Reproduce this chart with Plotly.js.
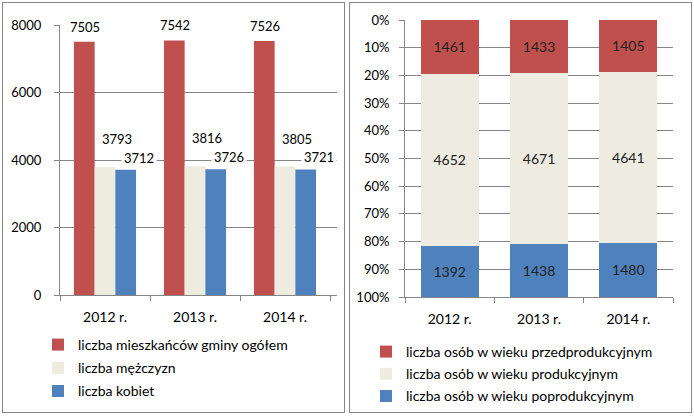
<!DOCTYPE html>
<html>
<head>
<meta charset="utf-8">
<script src="https://cdn.plot.ly/plotly-3.0.1.min.js"></script>
<style>
  body { margin: 0; background: #fff; }
  #left { position: absolute; left: 0; top: 0; width: 346px; height: 417px; }
  #right { position: absolute; left: 346px; top: 0; width: 348px; height: 417px; }
  .frame { position: absolute; border: 1px solid #868686; pointer-events: none; }
</style>
</head>
<body>
<div id="left"></div>
<div id="right"></div>
<div class="frame" style="left:2px; top:2px; width:341px; height:409px;"></div>
<div class="frame" style="left:349px; top:2px; width:341px; height:409px;"></div>
<script>
// lata
var years = ["2012 r.", "2013 r.", "2014 r."];

// wykres lewy - ludność
var ogolem = [7505, 7542, 7526];
var mezczyzni = [3793, 3816, 3805];
var kobiety = [3712, 3726, 3721];

// wykres prawy - struktura wieku
var przedprod = [1461, 1433, 1405];
var prod = [4652, 4671, 4641];
var poprod = [1392, 1438, 1480];

var red = "#C0504D";
var cream = "#EEECE1";
var blue = "#4F81BD";
var grid = "#868686";
var fam = "Lato, 'Liberation Sans', sans-serif";
var fnt = { family: fam, size: 13, color: "#000" };
var big = { family: fam, size: 14, color: "#000" };

// ---- lewy ----
var t1 = { x: years, y: ogolem, type: "bar", name: "liczba mieszkańców gminy ogółem", marker: { color: red }, legendgroup: "a" };
var t2 = { x: years, y: mezczyzni, type: "bar", name: "liczba mężczyzn", marker: { color: cream }, legendgroup: "b" };
var t3 = { x: years, y: kobiety, type: "bar", name: "liczba kobiet", marker: { color: blue }, legendgroup: "c" };

// etykiety wartości (przesunięcia jak w oryginale)
var annots = [];
var series = [[ogolem, -20, 15], [mezczyzni, 12, 28], [kobiety, 34, 12]];
series.forEach(function (s) {
    years.forEach(function (yr, i) {
        annots.push({
            x: yr, y: s[0][i], text: String(s[0][i]), showarrow: false,
            xshift: s[1], yshift: s[2], yanchor: "middle",
            bgcolor: "#fff", borderpad: 2, font: fnt
        });
    });
});

var layout1 = {
    width: 346, height: 417,
    margin: { l: 0, r: 0, t: 0, b: 0 },
    paper_bgcolor: "#fff", plot_bgcolor: "#fff",
    barmode: "group", bargap: 0.31, bargroupgap: 0,
    font: fnt,
    xaxis: {
        domain: [60 / 346, 337 / 346], type: "category",
        showline: true, linecolor: grid, ticks: "outside", ticklen: 5, tickcolor: grid,
        tickson: "boundaries", showgrid: false, tickfont: big, ticklabelstandoff: 9
    },
    yaxis: {
        domain: [(417 - 295) / 417, (417 - 25) / 417], range: [0, 8000], dtick: 2000,
        showline: true, linecolor: grid, ticks: "outside", ticklen: 5, tickcolor: grid,
        showgrid: true, gridcolor: grid, zeroline: false, tickfont: fnt, ticklabelstandoff: 10
    },
    annotations: annots,
    showlegend: true,
    legend: { x: 38 / 346, xanchor: "left", y: 1 - 329 / 417, yanchor: "top", font: big, bgcolor: "rgba(0,0,0,0)", tracegroupgap: 2 }
};

Plotly.newPlot("left", [t1, t2, t3], layout1, { displayModeBar: false, staticPlot: true });

// ---- prawy ----
var txt = { family: fam, size: 14, color: "#222" };
var r1 = { x: years, y: przedprod, type: "bar", name: "liczba osób w wieku przedprodukcyjnym", marker: { color: red }, text: przedprod, textposition: "inside", insidetextanchor: "middle", textangle: 0, textfont: txt, legendgroup: "a" };
var r2 = { x: years, y: prod, type: "bar", name: "liczba osób w wieku produkcyjnym", marker: { color: cream }, text: prod, textposition: "inside", insidetextanchor: "middle", textangle: 0, textfont: txt, legendgroup: "b" };
var r3 = { x: years, y: poprod, type: "bar", name: "liczba osób w wieku poprodukcyjnym", marker: { color: blue }, text: poprod, textposition: "inside", insidetextanchor: "middle", textangle: 0, textfont: txt, legendgroup: "c" };

var layout2 = {
    width: 348, height: 417,
    margin: { l: 0, r: 0, t: 0, b: 0 },
    paper_bgcolor: "#fff", plot_bgcolor: "#fff",
    barmode: "stack", barnorm: "percent", bargap: 0.35,
    font: fnt,
    xaxis: {
        domain: [59 / 348, 327 / 348], type: "category",
        showline: true, linecolor: grid, ticks: "outside", ticklen: 5, tickcolor: grid,
        tickson: "boundaries", showgrid: false, tickfont: big, ticklabelstandoff: 9
    },
    yaxis: {
        domain: [(417 - 297) / 417, (417 - 20) / 417], range: [100, 0], dtick: 10, ticksuffix: "%",
        showline: true, linecolor: grid, ticks: "outside", ticklen: 5, tickcolor: grid,
        showgrid: true, gridcolor: grid, zeroline: false, tickfont: fnt, ticklabelstandoff: 7
    },
    showlegend: true,
    legend: { x: 20 / 348, xanchor: "left", y: 1 - 336 / 417, yanchor: "top", font: big, bgcolor: "rgba(0,0,0,0)", tracegroupgap: 1 }
};

Plotly.newPlot("right", [r1, r2, r3], layout2, { displayModeBar: false, staticPlot: true });
</script>
</body>
</html>
